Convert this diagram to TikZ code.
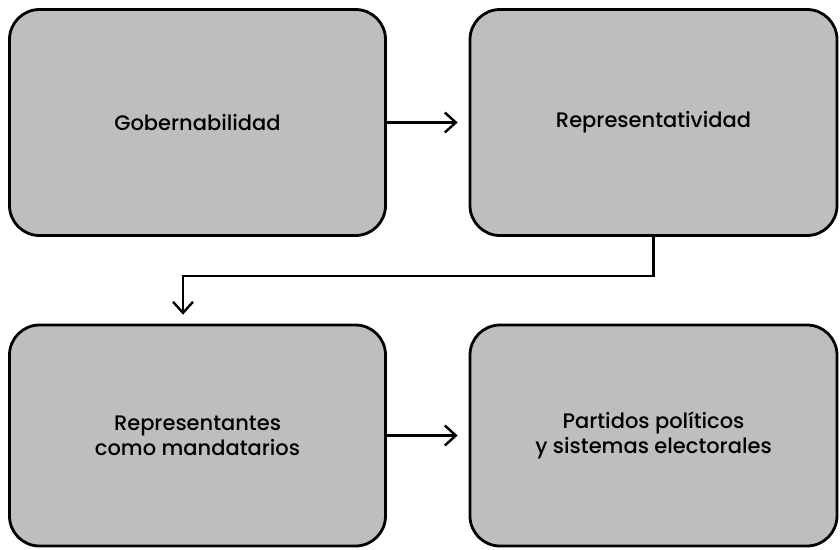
\documentclass[tikz,border=0pt]{standalone}
\usepackage{fontspec}
\setmainfont{Poppins}[UprightFont={* Medium}]
\usetikzlibrary{arrows.meta}
\definecolor{boxgray}{HTML}{BEBEC0}
\tikzset{
  box/.style={draw=black, line width=2.8pt, fill=boxgray, rounded corners=30pt,
    align=center, font=\fontsize{21}{25}\selectfont, text=black, inner sep=0pt},
  link/.style={draw=black, line width=2.4pt,
    -{Straight Barb[length=11pt, width=20pt, line width=2.4pt]}}
}
\begin{document}
\begin{tikzpicture}[x=1pt, y=-1pt]
  \useasboundingbox (0,0) rectangle (840,549);
  \node[box, minimum width=376pt, minimum height=226pt] (gob) at (197.5,122.5) {Gobernabilidad};
  \node[box, minimum width=367pt, minimum height=226pt] (rep) at (653.5,122.5) {Representatividad};
  \node[box, minimum width=376pt, minimum height=221pt] (man) at (197.5,435.5) {Representantes\\como mandatarios};
  \node[box, minimum width=367pt, minimum height=221pt] (par) at (653.5,435.5) {Partidos políticos\\y sistemas electorales};
  \draw[link, shorten >=11pt] (gob.east) -- (rep.west);
  \draw[link, shorten >=11pt] (man.east) -- (par.west);
  \coordinate (drop) at ([xshift=-14.5pt]man.north);
  \draw[link, shorten >=9pt] (rep.south) -- ++(0,39) -| (drop);
\end{tikzpicture}
\end{document}
